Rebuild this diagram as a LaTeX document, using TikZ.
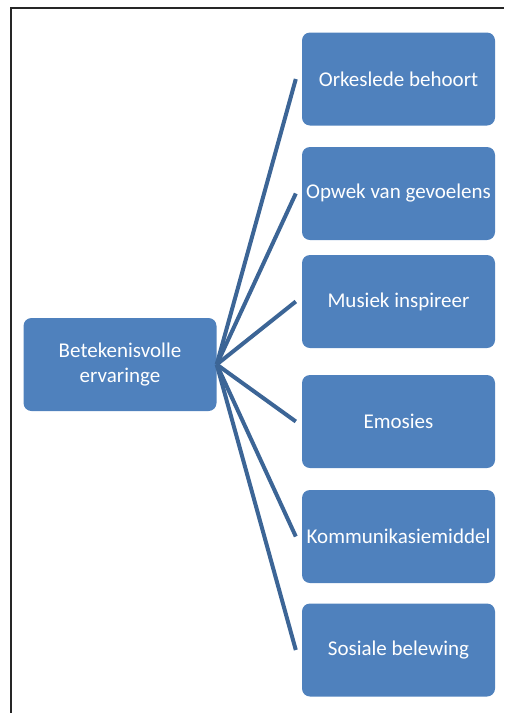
\documentclass[tikz,border=0pt]{standalone}
\usepackage{fontspec}
\setmainfont{Carlito}
\usepackage{tikz}
\usetikzlibrary{calc}
\definecolor{boxblue}{RGB}{79,129,189}
\definecolor{linkblue}{RGB}{60,101,150}
\tikzset{
  item/.style={rectangle, rounded corners=8pt, fill=boxblue, text=white,
    minimum width=193pt, minimum height=93pt, inner sep=0pt, align=center,
    font=\fontsize{21}{25}\selectfont},
  link/.style={draw=linkblue, line width=4pt}
}

\begin{document}
\begin{tikzpicture}[x=1pt, y=-1pt]
  \useasboundingbox (0,0) rectangle (504,713);
  % frame
  \draw[line width=1.6pt, black!85] (11,713) -- (11,8) -- (504,8);

  \node[item] (root) at (120,364.5) {Betekenisvolle\\ervaringe};

  \node[item] (o1) at (398.5,79)    {Orkeslede behoort};
  \node[item] (o2) at (398.5,193.5) {Opwek van gevoelens};
  \node[item] (o3) at (398.5,301.5) {Musiek inspireer};
  \node[item] (o4) at (398.5,421.5) {Emosies};
  \node[item] (o5) at (398.5,536.5) {Kommunikasiemiddel};
  \node[item] (o6) at (398.5,650)   {Sosiale belewing};

  \foreach \o in {o1,o2,o3,o4,o5,o6}
    \draw[link] (root.east) -- ($(\o.west)+(-6,0)$);
\end{tikzpicture}
\end{document}
